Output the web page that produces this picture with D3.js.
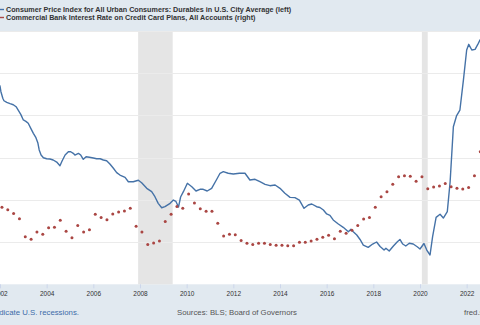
<!DOCTYPE html>
<html>
<head>
<meta charset="utf-8">
<script src="https://cdn.jsdelivr.net/npm/d3@7"></script>
<style>
  body { margin: 0; background: #e1e9f0; }
  svg { display: block; font-family: 'Liberation Sans', Arial, sans-serif; }
</style>
</head>
<body>
<svg id="chart" width="480" height="325"></svg>
<script>
// CPI durables (left axis): decimal year / index value
const cpiYears = [
  2001.79, 2002.00, 2002.04, 2002.12, 2002.17, 2002.29, 2002.43, 2002.57, 2002.69, 2002.78,
  2002.89, 2003.00, 2003.11, 2003.21, 2003.32, 2003.43, 2003.54, 2003.62, 2003.68, 2003.76,
  2003.86, 2004.00, 2004.14, 2004.28, 2004.43, 2004.57, 2004.66, 2004.79, 2004.93, 2005.03,
  2005.14, 2005.21, 2005.36, 2005.46, 2005.57, 2005.69, 2005.83, 2006.00, 2006.14, 2006.29,
  2006.43, 2006.57, 2006.71, 2006.86, 2007.00, 2007.14, 2007.36, 2007.50, 2007.71, 2007.93,
  2008.07, 2008.29, 2008.50, 2008.64, 2008.78, 2008.93, 2009.07, 2009.29, 2009.43, 2009.54,
  2009.65, 2009.74, 2009.86, 2010.03, 2010.22, 2010.40, 2010.57, 2010.71, 2010.88, 2011.07,
  2011.29, 2011.43, 2011.57, 2011.78, 2012.00, 2012.26, 2012.50, 2012.71, 2012.93, 2013.14,
  2013.36, 2013.57, 2013.79, 2014.00, 2014.21, 2014.43, 2014.64, 2014.83, 2015.03, 2015.21,
  2015.36, 2015.57, 2015.71, 2015.86, 2016.00, 2016.14, 2016.28, 2016.50, 2016.71, 2016.93,
  2017.04, 2017.14, 2017.29, 2017.43, 2017.57, 2017.78, 2017.97, 2018.14, 2018.29, 2018.46,
  2018.54, 2018.68, 2018.86, 2019.03, 2019.14, 2019.26, 2019.39, 2019.54, 2019.71, 2019.88,
  2020.00, 2020.17, 2020.29, 2020.43, 2020.54, 2020.69, 2020.86, 2021.00, 2021.17, 2021.29,
  2021.43, 2021.57, 2021.71, 2021.86, 2022.00, 2022.09, 2022.22, 2022.36, 2022.50, 2022.57,
  2022.66
]
const cpiValues = [
  119.43, 118.48, 117.81, 117.03, 116.74, 116.55, 116.39, 116.27, 116.03, 115.64,
  115.13, 114.46, 114.30, 114.07, 113.47, 112.88, 112.36, 111.77, 110.91, 110.31,
  109.99, 109.87, 109.84, 109.72, 109.48, 109.05, 109.60, 110.31, 110.70, 110.70,
  110.51, 110.31, 110.51, 110.31, 109.80, 110.11, 110.04, 109.96, 109.87, 109.87,
  109.72, 109.64, 109.25, 108.74, 108.22, 107.94, 107.67, 107.15, 107.15, 107.32,
  107.03, 106.37, 105.97, 105.37, 104.59, 104.07, 104.19, 104.59, 104.98, 104.81,
  104.15, 105.34, 105.97, 106.96, 106.56, 106.05, 106.25, 106.25, 106.05, 106.37,
  107.44, 108.15, 108.34, 108.15, 108.06, 108.15, 108.15, 107.35, 107.44, 107.15,
  106.84, 106.68, 106.76, 106.37, 105.78, 105.30, 105.26, 104.98, 104.00, 104.39,
  104.51, 104.19, 104.10, 103.80, 103.33, 103.17, 102.62, 102.14, 101.75, 101.23,
  101.51, 101.23, 100.84, 100.31, 99.65, 99.38, 99.77, 100.01, 99.48, 99.06,
  99.26, 98.94, 99.54, 100.05, 100.31, 99.77, 99.54, 99.86, 99.77, 99.45,
  99.18, 99.83, 99.06, 98.47, 100.64, 102.93, 103.29, 102.85, 103.60, 107.12,
  113.66, 114.99, 115.64, 119.19, 122.75, 123.42, 122.75, 122.83, 123.54, 123.93,
  124.29
]

// credit card rate (right axis), quarterly from Feb 2002
const rateStart = 2002 + 1 / 12
const rateValues = [
  13.65, 13.53, 13.36, 13.11, 12.25, 12.13, 12.48, 12.37, 12.68, 12.70,
  13.03, 12.51, 12.21, 12.79, 12.48, 12.59, 13.32, 13.17, 13.06, 13.33,
  13.42, 13.47, 13.60, 12.75, 12.48, 11.89, 11.96, 12.05, 12.98, 13.32,
  13.69, 13.60, 14.28, 13.85, 13.58, 13.46, 13.46, 12.89, 12.29, 12.37,
  12.35, 12.07, 11.94, 11.88, 11.94, 11.94, 11.88, 11.85, 11.85, 11.83,
  11.83, 11.99, 11.99, 12.05, 12.13, 12.23, 12.32, 12.16, 12.51, 12.42,
  12.56, 12.78, 13.09, 13.17, 13.65, 14.15, 14.39, 14.74, 15.10, 15.14,
  15.12, 14.88, 15.10, 14.53, 14.61, 14.66, 14.77, 14.62, 14.55, 14.51,
  14.58, 15.14, 16.28
]

const tickYears = [2002, 2004, 2006, 2008, 2010, 2012, 2014, 2016, 2018, 2020, 2022]
const leftTicks = [95, 100, 105, 110, 115, 120, 125]
const recessions = [[2007.92, 2009.40], [2020.08, 2020.33]]

const legendItems = [
  { label: 'Consumer Price Index for All Urban Consumers: Durables in U.S. City Average (left)', color: '#4572a7' },
  { label: 'Commercial Bank Interest Rate on Credit Card Plans, All Accounts (right)', color: '#aa4643' },
]

const TOP = 31
const BOTTOM = 284.3

const svg = d3.select('#chart')

const x = d3.scaleLinear().domain([2002, 2022]).range([0, 466.67])
const yLeft = d3.scaleLinear().domain([95, 125]).range([BOTTOM, TOP])
const yRight = d3.scaleLinear().domain([10, 22]).range([BOTTOM, TOP])

svg.append('rect')
  .attr('width', 480).attr('height', 325)
  .attr('fill', '#e1e9f0')

svg.append('defs').append('clipPath').attr('id', 'plot')
  .append('rect')
  .attr('x', -20).attr('y', TOP)
  .attr('width', 520).attr('height', BOTTOM - TOP)

svg.append('rect')
  .attr('x', -20).attr('y', TOP)
  .attr('width', 520).attr('height', BOTTOM - TOP)
  .attr('fill', '#ffffff')

// recession bands
svg.append('g').selectAll('rect')
  .data(recessions)
  .join('rect')
  .attr('x', d => x(d[0]))
  .attr('y', TOP)
  .attr('width', d => x(d[1]) - x(d[0]))
  .attr('height', BOTTOM - TOP)
  .attr('fill', '#e5e5e5')

// grid
svg.append('g').selectAll('line')
  .data(leftTicks.slice(1))
  .join('line')
  .attr('x1', -20).attr('x2', 500)
  .attr('y1', d => Math.round(yLeft(d)) + 0.5)
  .attr('y2', d => Math.round(yLeft(d)) + 0.5)
  .attr('stroke', '#ebebeb')
  .attr('stroke-width', 1)

// x axis
const xAxis = svg.append('g')
  .attr('transform', `translate(0,${BOTTOM})`)
  .call(d3.axisBottom(x).tickValues(tickYears).tickFormat(d3.format('d')).tickSize(4).tickPadding(3))
xAxis.select('.domain').remove()
xAxis.selectAll('.tick line').attr('stroke', '#ccd6eb')
xAxis.selectAll('.tick text')
  .attr('fill', '#333333')
  .style('font-size', '6.5px')

const plot = svg.append('g').attr('clip-path', 'url(#plot)')

const line = d3.line()
  .x((d, i) => x(cpiYears[i]))
  .y(d => yLeft(d))

plot.append('path')
  .datum(cpiValues)
  .attr('d', line)
  .attr('fill', 'none')
  .attr('stroke', '#4572a7')
  .attr('stroke-width', 1.4)
  .attr('stroke-linejoin', 'round')

plot.append('g').selectAll('circle')
  .data(rateValues)
  .join('circle')
  .attr('cx', (d, i) => x(rateStart + i * 0.25))
  .attr('cy', d => yRight(d))
  .attr('r', 1.5)
  .attr('fill', '#aa4643')

// legend
const legend = svg.append('g')
legendItems.forEach((item, i) => {
  const ly = 9.5 + i * 8
  legend.append('line')
    .attr('x1', -2).attr('x2', 4)
    .attr('y1', ly).attr('y2', ly)
    .attr('stroke', item.color)
    .attr('stroke-width', 1.4)
  legend.append('text')
    .attr('x', 6).attr('y', ly)
    .attr('dy', '0.35em')
    .attr('fill', '#333333')
    .style('font-size', '7.2px')
    .style('font-weight', 'bold')
    .text(item.label)
})

// footer
const footer = svg.append('g').style('font-size', '7.8px')
footer.append('text')
  .attr('x', 79).attr('y', 312)
  .attr('dy', '0.35em')
  .attr('text-anchor', 'end')
  .attr('fill', '#3c6ba8')
  .text('Shaded areas indicate U.S. recessions.')
footer.append('text')
  .attr('x', 237).attr('y', 312)
  .attr('dy', '0.35em')
  .attr('text-anchor', 'middle')
  .attr('fill', '#555555')
  .text('Sources: BLS; Board of Governors')
footer.append('text')
  .attr('x', 464).attr('y', 312)
  .attr('dy', '0.35em')
  .attr('fill', '#555555')
  .text('fred.stlouisfed.org')
</script>
</body>
</html>
